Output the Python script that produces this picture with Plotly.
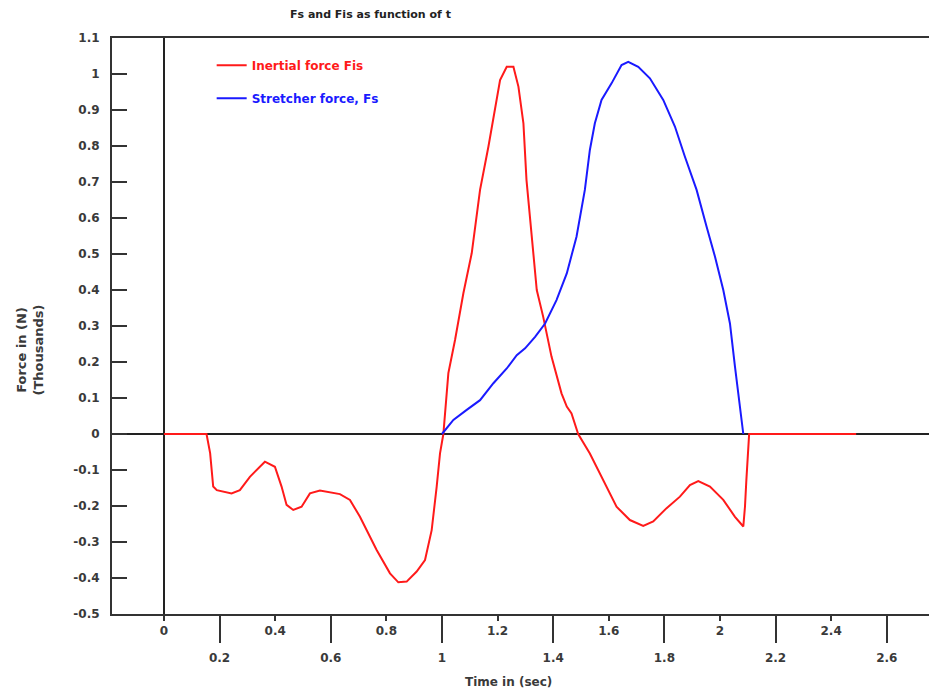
import plotly.graph_objects as go

# Inertial force Fis (thousands of N) vs time (s)
t_fis = [0.0, 0.153, 0.166, 0.177, 0.19, 0.243, 0.273, 0.309, 0.363, 0.399, 0.423, 0.441,
         0.465, 0.495, 0.525, 0.561, 0.633, 0.669, 0.705, 0.765, 0.813, 0.843, 0.873, 0.909,
         0.939, 0.963, 0.981, 0.993, 1.005, 1.023, 1.047, 1.077, 1.107, 1.137, 1.167, 1.191,
         1.209, 1.233, 1.257, 1.275, 1.293, 1.304, 1.323, 1.341, 1.364, 1.394, 1.43, 1.449,
         1.466, 1.49, 1.532, 1.58, 1.628, 1.676, 1.724, 1.76, 1.808, 1.856, 1.892, 1.922,
         1.964, 2.012, 2.054, 2.084, 2.09, 2.095, 2.102, 2.105, 2.49]
v_fis = [0.0, 0.0, -0.053, -0.146, -0.156, -0.165, -0.156, -0.119, -0.077, -0.091, -0.146, -0.197,
         -0.211, -0.202, -0.165, -0.157, -0.167, -0.183, -0.23, -0.322, -0.387, -0.412, -0.41, -0.382,
         -0.35, -0.267, -0.146, -0.054, 0.0, 0.169, 0.261, 0.391, 0.502, 0.678, 0.798, 0.909,
         0.983, 1.02, 1.02, 0.965, 0.863, 0.706, 0.539, 0.4, 0.326, 0.215, 0.113, 0.076,
         0.057, 0.0, -0.054, -0.128, -0.202, -0.239, -0.255, -0.243, -0.206, -0.174, -0.142, -0.131,
         -0.146, -0.183, -0.23, -0.257, -0.202, -0.128, -0.017, 0.0, 0.0]

# Stretcher force Fs
t_fs = [1.0, 1.041, 1.089, 1.137, 1.185, 1.233, 1.269, 1.299, 1.335, 1.371, 1.412, 1.449,
        1.484, 1.514, 1.532, 1.55, 1.574, 1.61, 1.646, 1.67, 1.706, 1.748, 1.796, 1.838,
        1.874, 1.916, 1.952, 1.982, 2.012, 2.036, 2.054, 2.072, 2.084]
v_fs = [0.0, 0.039, 0.067, 0.094, 0.141, 0.182, 0.219, 0.238, 0.27, 0.307, 0.372, 0.446,
        0.548, 0.678, 0.789, 0.863, 0.928, 0.974, 1.025, 1.034, 1.02, 0.988, 0.928, 0.854,
        0.77, 0.678, 0.576, 0.493, 0.4, 0.307, 0.187, 0.076, 0.0]

x_upper_ticks = [0, 0.4, 0.8, 1.2, 1.6, 2.0, 2.4]
x_upper_text = ["0", "0.4", "0.8", "1.2", "1.6", "2", "2.4"]
x_lower_ticks = [0.2, 0.6, 1.0, 1.4, 1.8, 2.2, 2.6]
x_lower_text = ["0.2", "0.6", "1", "1.4", "1.8", "2.2", "2.6"]
y_ticks = [1.1, 1.0, 0.9, 0.8, 0.7, 0.6, 0.5, 0.4, 0.3, 0.2, 0.1, 0.0,
           -0.1, -0.2, -0.3, -0.4, -0.5]
y_text = ["1.1", "1", "0.9", "0.8", "0.7", "0.6", "0.5", "0.4", "0.3", "0.2", "0.1", "0",
          "-0.1", "-0.2", "-0.3", "-0.4", "-0.5"]

XR = [-0.187, 2.752]
YR = [-0.5, 1.1]
AX = "#333333"
TXT = "#3a3a3a"
FONT = "DejaVu Sans"
TICKFONT = dict(family=FONT, size=12, color=TXT, weight="bold")

fig = go.Figure()
fig.add_trace(go.Scatter(x=t_fis, y=v_fis, mode="lines", line=dict(color="#ff1a1a", width=2),
                         name='<span style="color:#ff1a1a">Inertial force Fis</span>',
                         legendgroup="a"))
fig.add_trace(go.Scatter(x=t_fs, y=v_fs, mode="lines", line=dict(color="#1a1aff", width=2),
                         name='<span style="color:#1a1aff">Stretcher force, Fs</span>',
                         legendgroup="b"))
# invisible carrier for the secondary (lower-row) tick axis
fig.add_trace(go.Scatter(x=t_fs, y=v_fs, mode="lines", opacity=0, showlegend=False,
                         hoverinfo="skip", xaxis="x2"))

fig.update_layout(
    width=929, height=693,
    margin=dict(l=112, r=0, t=38, b=79),
    plot_bgcolor="white", paper_bgcolor="white",
    font=dict(family=FONT, size=12, color=TXT),
    showlegend=True,
    legend=dict(x=0.122, y=0.978, xanchor="left", yanchor="top",
                bgcolor="rgba(0,0,0,0)", traceorder="grouped", tracegroupgap=14,
                font=dict(family=FONT, size=12, weight="bold")),
    xaxis=dict(range=XR, tickmode="array", tickvals=x_upper_ticks, ticktext=x_upper_text,
               ticks="outside", ticklen=5, tickwidth=2, tickcolor=AX,
               showline=True, linecolor=AX, linewidth=2, mirror=True,
               showgrid=False, zeroline=True, zerolinecolor="#222222", zerolinewidth=2,
               tickfont=TICKFONT),
    xaxis2=dict(range=XR, overlaying="x", anchor="y", side="bottom",
                tickmode="array", tickvals=x_lower_ticks, ticktext=x_lower_text,
                ticks="outside", ticklen=28, tickwidth=2, tickcolor=AX,
                ticklabelstandoff=5,
                showline=False, showgrid=False, zeroline=False,
                tickfont=TICKFONT),
    yaxis=dict(range=YR, tickmode="array", tickvals=y_ticks, ticktext=y_text,
               ticks="inside", ticklen=15, tickwidth=2, tickcolor=AX,
               ticklabelstandoff=8,
               showline=True, linecolor=AX, linewidth=2, mirror=False,
               showgrid=False, zeroline=True, zerolinecolor="#222222", zerolinewidth=2,
               tickfont=TICKFONT),
    annotations=[
        dict(text="Fs and Fis as function of t", xref="paper", yref="paper",
             x=0.316, y=1.04, xanchor="center", yanchor="middle", showarrow=False,
             font=dict(family=FONT, size=11, color="#222222", weight="bold")),
        dict(text="Time in (sec)", xref="paper", yref="paper",
             x=0.485, y=-0.118, xanchor="center", yanchor="middle", showarrow=False,
             font=dict(family=FONT, size=12, color=TXT, weight="bold")),
        dict(text="Force in (N)<br>(Thousands)", xref="paper", yref="paper",
             x=-0.1, y=0.458, xanchor="center", yanchor="middle", showarrow=False,
             textangle=-90, font=dict(family=FONT, size=13, color=TXT, weight="bold")),
    ],
)

fig.write_html("out.html")
